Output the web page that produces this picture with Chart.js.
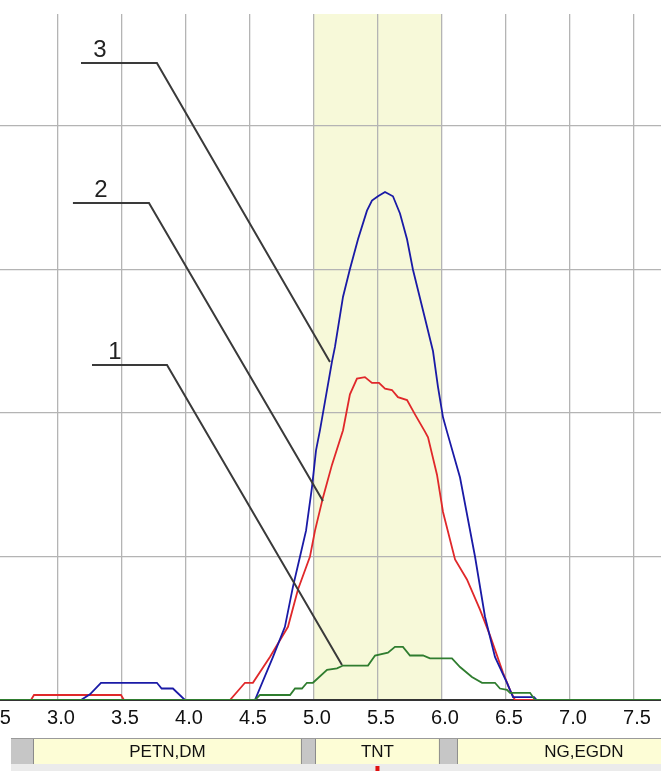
<!DOCTYPE html>
<html>
<head>
<meta charset="utf-8">
<script src="https://cdn.jsdelivr.net/npm/chart.js@4.4.1/dist/chart.umd.min.js"></script>
<style>
html, body { margin: 0; padding: 0; background: #fff; overflow: hidden; }
#wrap { position: absolute; left: -20px; top: 0; width: 681px; height: 771px; }
</style>
</head>
<body>
<div id="wrap"><canvas id="chart"></canvas></div>
<script>
// tick values
const xTicks = [2.5, 3.0, 3.5, 4.0, 4.5, 5.0, 5.5, 6.0, 6.5, 7.0, 7.5];
const yTicks = [0, 1, 2, 3, 4];

// trace 3 (blue)
const blueX = [2.39, 3.18, 3.25, 3.336, 3.773, 3.81, 3.898, 3.992, 4.539, 4.68,
    4.773, 4.836, 4.891, 4.938, 4.984, 5.016, 5.047, 5.141, 5.164, 5.227,
    5.28, 5.344, 5.414, 5.453, 5.5, 5.555, 5.617, 5.672, 5.727, 5.773,
    5.867, 5.93, 5.969, 6.008, 6.039, 6.141, 6.258, 6.336, 6.414, 6.508,
    6.555, 6.72, 6.74, 7.72];
const blueY = [0, 0, 0.04, 0.12, 0.12, 0.08, 0.08, 0, 0, 0.30,
    0.51, 0.79, 1.00, 1.18, 1.48, 1.74, 1.88, 2.36, 2.46, 2.81,
    3.0, 3.21, 3.41, 3.48, 3.51, 3.54, 3.51, 3.39, 3.21, 3.0,
    2.66, 2.43, 2.18, 1.97, 1.87, 1.55, 1.0, 0.58, 0.30, 0.12,
    0.02, 0.02, 0, 0];

// trace 2 (red)
const redX = [2.39, 2.789, 2.813, 3.492, 3.516, 4.344, 4.461, 4.523, 4.656, 4.797,
    4.875, 4.969, 5.008, 5.07, 5.141, 5.227, 5.281, 5.336, 5.398, 5.453,
    5.508, 5.555, 5.609, 5.656, 5.727, 5.789, 5.867, 5.891, 5.961, 6.008,
    6.102, 6.195, 6.297, 6.375, 6.477, 6.531, 6.57, 7.72];
const redY = [0, 0, 0.035, 0.035, 0, 0, 0.12, 0.12, 0.30, 0.51,
    0.77, 1.0, 1.18, 1.41, 1.64, 1.88, 2.13, 2.24, 2.25, 2.21,
    2.21, 2.17, 2.16, 2.11, 2.09, 1.99, 1.87, 1.83, 1.57, 1.31,
    0.98, 0.84, 0.63, 0.45, 0.19, 0.07, 0, 0];

// trace 1 (green)
const greenX = [2.39, 4.539, 4.578, 4.813, 4.852, 4.906, 4.945, 4.992, 5.102, 5.18,
    5.227, 5.422, 5.477, 5.578, 5.633, 5.695, 5.75, 5.852, 5.906, 6.078,
    6.141, 6.234, 6.313, 6.414, 6.453, 6.508, 6.531, 6.688, 6.727, 7.72];
const greenY = [0, 0, 0.035, 0.035, 0.08, 0.08, 0.12, 0.12, 0.21, 0.22,
    0.24, 0.24, 0.31, 0.33, 0.37, 0.37, 0.31, 0.31, 0.29, 0.29,
    0.23, 0.16, 0.12, 0.12, 0.08, 0.07, 0.05, 0.05, 0, 0];

// detection windows under the axis
const groups = ['PETN,DM', 'TNT', 'NG,EGDN'];
const groupFrom = [2.805, 5.008, 6.117];
const groupTo = [4.906, 5.984, 8.1];
const highlight = [5.0, 6.0];

// numbered leader lines (data coords)
const callouts = [
    { label: '3', labelX: 3.328, x0: 3.180, x1: 3.773, y: 4.439, x2: 5.125, y2: 2.355 },
    { label: '2', labelX: 3.336, x0: 3.117, x1: 3.711, y: 3.463, x2: 5.07, y2: 1.387 },
    { label: '1', labelX: 3.445, x0: 3.266, x1: 3.852, y: 2.334, x2: 5.219, y2: 0.244 }
];

const pts = (xs, ys) => xs.map((x, i) => ({ x: x, y: ys[i] }));

const decor = {
    id: 'decor',
    beforeDraw(chart) {
        const { ctx, chartArea: a, scales: { x } } = chart;
        const l = x.getPixelForValue(highlight[0]);
        const r = x.getPixelForValue(highlight[1]);
        ctx.save();
        ctx.fillStyle = '#f7f9d9';
        ctx.fillRect(l, a.top, r - l, a.bottom - a.top);
        ctx.restore();
    },
    afterDatasetsDraw(chart) {
        const { ctx, scales: { x, y } } = chart;
        ctx.save();
        ctx.strokeStyle = '#3a3a3a';
        ctx.lineWidth = 2;
        ctx.fillStyle = '#222';
        ctx.font = '24px "Liberation Sans", Arial, sans-serif';
        ctx.textAlign = 'center';
        ctx.textBaseline = 'alphabetic';
        for (const c of callouts) {
            const yy = y.getPixelForValue(c.y);
            ctx.beginPath();
            ctx.moveTo(x.getPixelForValue(c.x0), yy);
            ctx.lineTo(x.getPixelForValue(c.x1), yy);
            ctx.lineTo(x.getPixelForValue(c.x2), y.getPixelForValue(c.y2));
            ctx.stroke();
            ctx.fillText(c.label, x.getPixelForValue(c.labelX), yy - 6);
        }
        ctx.restore();
    },
    afterDraw(chart) {
        const { ctx, chartArea: a, scales: { x } } = chart;
        const top = a.bottom + 38;
        const h = 26;
        const left = x.getPixelForValue(2.633);
        ctx.save();
        ctx.fillStyle = '#c6c6c6';
        ctx.fillRect(left, top, chart.width - left, h);
        ctx.fillStyle = '#ebebeb';
        ctx.fillRect(left, top + h, chart.width - left, 10);
        ctx.strokeStyle = '#9a9a9a';
        ctx.lineWidth = 1;
        ctx.beginPath();
        ctx.moveTo(left, top + 0.5);
        ctx.lineTo(chart.width, top + 0.5);
        ctx.stroke();
        ctx.font = '17px "Liberation Sans", Arial, sans-serif';
        ctx.textAlign = 'center';
        ctx.textBaseline = 'middle';
        groups.forEach((g, i) => {
            const x0 = x.getPixelForValue(groupFrom[i]);
            const x1 = x.getPixelForValue(groupTo[i]);
            ctx.fillStyle = '#fdfdd6';
            ctx.fillRect(x0, top + 1, x1 - x0, h - 1);
            ctx.strokeStyle = '#8a8a8a';
            ctx.beginPath();
            ctx.moveTo(x0 + 0.5, top + 1);
            ctx.lineTo(x0 + 0.5, top + h);
            ctx.moveTo(x1 - 0.5, top + 1);
            ctx.lineTo(x1 - 0.5, top + h);
            ctx.stroke();
            ctx.fillStyle = '#111';
            ctx.fillText(g, (x0 + x1) / 2, top + h / 2 + 1);
        });
        // small red marker under the highlighted window
        const mx = x.getPixelForValue((groupFrom[1] + groupTo[1]) / 2);
        ctx.fillStyle = '#e01010';
        ctx.fillRect(mx - 2, top + h + 2, 4, 5);
        ctx.restore();
    }
};

const lineDs = (data, color) => ({
    data: data,
    borderColor: color,
    borderWidth: 1.8,
    pointRadius: 0,
    tension: 0,
    fill: false
});

new Chart(document.getElementById('chart'), {
    type: 'line',
    data: {
        datasets: [
            lineDs(pts(greenX, greenY), '#2f7d2f'),
            lineDs(pts(blueX, blueY), '#1a1aa6'),
            lineDs(pts(redX, redY), '#e0282a')
        ]
    },
    options: {
        responsive: true,
        maintainAspectRatio: false,
        animation: false,
        devicePixelRatio: 1,
        layout: { padding: { top: 14, bottom: 35, left: 0, right: 0 } },
        plugins: { legend: { display: false }, tooltip: { enabled: false } },
        scales: {
            x: {
                type: 'linear',
                min: 2.391,
                max: 7.711,
                afterBuildTicks: s => { s.ticks = xTicks.map(v => ({ value: v })); },
                afterFit: s => { s.paddingLeft = 0; s.paddingRight = 0; },
                ticks: {
                    font: { family: '"Liberation Sans", Arial, sans-serif', size: 20 },
                    color: '#111',
                    padding: 6,
                    labelOffset: 3,
                    autoSkip: false,
                    maxRotation: 0,
                    callback: v => Number(v).toFixed(1)
                },
                grid: { color: '#b4b4b4', lineWidth: 1.3, drawTicks: false },
                border: { color: '#333', width: 2 }
            },
            y: {
                min: 0,
                max: 4.78,
                afterBuildTicks: s => { s.ticks = yTicks.map(v => ({ value: v })); },
                afterFit: s => { s.width = 0; s.paddingTop = 0; s.paddingBottom = 0; },
                ticks: { display: false },
                grid: { color: '#b4b4b4', lineWidth: 1.3, drawTicks: false },
                border: { display: false }
            }
        }
    },
    plugins: [decor]
});
</script>
</body>
</html>
